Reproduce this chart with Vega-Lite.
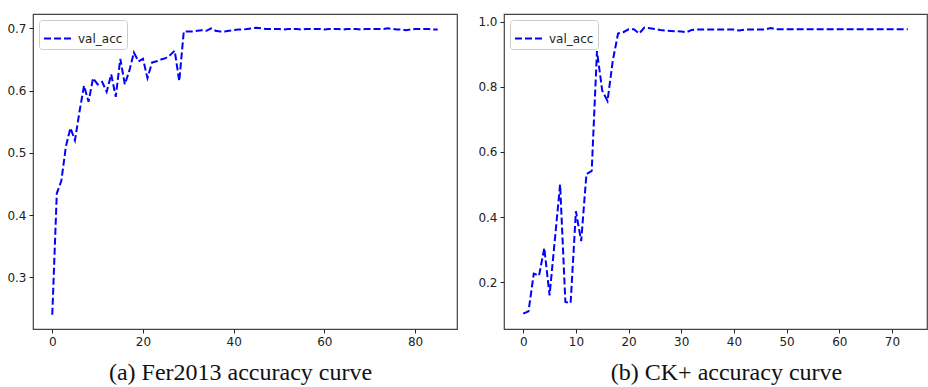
{
  "$schema": "https://vega.github.io/schema/vega-lite/v6.json",
  "padding": {"left": 6, "top": 13, "right": 0, "bottom": 0},
  "background": "white",
  "datasets": {
    "fer": [
      {"epoch": 0, "acc": 0.240, "series": "val_acc"},
      {"epoch": 1, "acc": 0.435, "series": "val_acc"},
      {"epoch": 2, "acc": 0.455, "series": "val_acc"},
      {"epoch": 3, "acc": 0.510, "series": "val_acc"},
      {"epoch": 4, "acc": 0.540, "series": "val_acc"},
      {"epoch": 5, "acc": 0.520, "series": "val_acc"},
      {"epoch": 6, "acc": 0.566, "series": "val_acc"},
      {"epoch": 7, "acc": 0.608, "series": "val_acc"},
      {"epoch": 8, "acc": 0.582, "series": "val_acc"},
      {"epoch": 9, "acc": 0.620, "series": "val_acc"},
      {"epoch": 10, "acc": 0.610, "series": "val_acc"},
      {"epoch": 11, "acc": 0.614, "series": "val_acc"},
      {"epoch": 12, "acc": 0.598, "series": "val_acc"},
      {"epoch": 13, "acc": 0.626, "series": "val_acc"},
      {"epoch": 14, "acc": 0.590, "series": "val_acc"},
      {"epoch": 15, "acc": 0.651, "series": "val_acc"},
      {"epoch": 16, "acc": 0.610, "series": "val_acc"},
      {"epoch": 17, "acc": 0.632, "series": "val_acc"},
      {"epoch": 18, "acc": 0.661, "series": "val_acc"},
      {"epoch": 19, "acc": 0.647, "series": "val_acc"},
      {"epoch": 20, "acc": 0.651, "series": "val_acc"},
      {"epoch": 21, "acc": 0.620, "series": "val_acc"},
      {"epoch": 22, "acc": 0.645, "series": "val_acc"},
      {"epoch": 23, "acc": 0.647, "series": "val_acc"},
      {"epoch": 24, "acc": 0.650, "series": "val_acc"},
      {"epoch": 25, "acc": 0.652, "series": "val_acc"},
      {"epoch": 26, "acc": 0.657, "series": "val_acc"},
      {"epoch": 27, "acc": 0.664, "series": "val_acc"},
      {"epoch": 28, "acc": 0.615, "series": "val_acc"},
      {"epoch": 29, "acc": 0.695, "series": "val_acc"},
      {"epoch": 30, "acc": 0.695, "series": "val_acc"},
      {"epoch": 31, "acc": 0.695, "series": "val_acc"},
      {"epoch": 32, "acc": 0.696, "series": "val_acc"},
      {"epoch": 33, "acc": 0.697, "series": "val_acc"},
      {"epoch": 34, "acc": 0.696, "series": "val_acc"},
      {"epoch": 35, "acc": 0.700, "series": "val_acc"},
      {"epoch": 36, "acc": 0.696, "series": "val_acc"},
      {"epoch": 37, "acc": 0.695, "series": "val_acc"},
      {"epoch": 38, "acc": 0.695, "series": "val_acc"},
      {"epoch": 39, "acc": 0.696, "series": "val_acc"},
      {"epoch": 40, "acc": 0.697, "series": "val_acc"},
      {"epoch": 41, "acc": 0.698, "series": "val_acc"},
      {"epoch": 42, "acc": 0.698, "series": "val_acc"},
      {"epoch": 43, "acc": 0.699, "series": "val_acc"},
      {"epoch": 44, "acc": 0.700, "series": "val_acc"},
      {"epoch": 45, "acc": 0.701, "series": "val_acc"},
      {"epoch": 46, "acc": 0.700, "series": "val_acc"},
      {"epoch": 47, "acc": 0.699, "series": "val_acc"},
      {"epoch": 48, "acc": 0.699, "series": "val_acc"},
      {"epoch": 49, "acc": 0.699, "series": "val_acc"},
      {"epoch": 50, "acc": 0.699, "series": "val_acc"},
      {"epoch": 51, "acc": 0.698, "series": "val_acc"},
      {"epoch": 52, "acc": 0.699, "series": "val_acc"},
      {"epoch": 53, "acc": 0.699, "series": "val_acc"},
      {"epoch": 54, "acc": 0.699, "series": "val_acc"},
      {"epoch": 55, "acc": 0.698, "series": "val_acc"},
      {"epoch": 56, "acc": 0.699, "series": "val_acc"},
      {"epoch": 57, "acc": 0.699, "series": "val_acc"},
      {"epoch": 58, "acc": 0.699, "series": "val_acc"},
      {"epoch": 59, "acc": 0.699, "series": "val_acc"},
      {"epoch": 60, "acc": 0.698, "series": "val_acc"},
      {"epoch": 61, "acc": 0.699, "series": "val_acc"},
      {"epoch": 62, "acc": 0.699, "series": "val_acc"},
      {"epoch": 63, "acc": 0.699, "series": "val_acc"},
      {"epoch": 64, "acc": 0.698, "series": "val_acc"},
      {"epoch": 65, "acc": 0.699, "series": "val_acc"},
      {"epoch": 66, "acc": 0.699, "series": "val_acc"},
      {"epoch": 67, "acc": 0.699, "series": "val_acc"},
      {"epoch": 68, "acc": 0.698, "series": "val_acc"},
      {"epoch": 69, "acc": 0.699, "series": "val_acc"},
      {"epoch": 70, "acc": 0.699, "series": "val_acc"},
      {"epoch": 71, "acc": 0.699, "series": "val_acc"},
      {"epoch": 72, "acc": 0.699, "series": "val_acc"},
      {"epoch": 73, "acc": 0.699, "series": "val_acc"},
      {"epoch": 74, "acc": 0.700, "series": "val_acc"},
      {"epoch": 75, "acc": 0.699, "series": "val_acc"},
      {"epoch": 76, "acc": 0.698, "series": "val_acc"},
      {"epoch": 77, "acc": 0.698, "series": "val_acc"},
      {"epoch": 78, "acc": 0.697, "series": "val_acc"},
      {"epoch": 79, "acc": 0.698, "series": "val_acc"},
      {"epoch": 80, "acc": 0.699, "series": "val_acc"},
      {"epoch": 81, "acc": 0.699, "series": "val_acc"},
      {"epoch": 82, "acc": 0.699, "series": "val_acc"},
      {"epoch": 83, "acc": 0.699, "series": "val_acc"},
      {"epoch": 84, "acc": 0.698, "series": "val_acc"},
      {"epoch": 85, "acc": 0.698, "series": "val_acc"}
    ],
    "ck": [
      {"epoch": 0, "acc": 0.103, "series": "val_acc"},
      {"epoch": 1, "acc": 0.110, "series": "val_acc"},
      {"epoch": 2, "acc": 0.226, "series": "val_acc"},
      {"epoch": 3, "acc": 0.220, "series": "val_acc"},
      {"epoch": 4, "acc": 0.305, "series": "val_acc"},
      {"epoch": 5, "acc": 0.159, "series": "val_acc"},
      {"epoch": 6, "acc": 0.330, "series": "val_acc"},
      {"epoch": 7, "acc": 0.500, "series": "val_acc"},
      {"epoch": 8, "acc": 0.139, "series": "val_acc"},
      {"epoch": 9, "acc": 0.136, "series": "val_acc"},
      {"epoch": 10, "acc": 0.418, "series": "val_acc"},
      {"epoch": 11, "acc": 0.326, "series": "val_acc"},
      {"epoch": 12, "acc": 0.532, "series": "val_acc"},
      {"epoch": 13, "acc": 0.542, "series": "val_acc"},
      {"epoch": 14, "acc": 0.910, "series": "val_acc"},
      {"epoch": 15, "acc": 0.788, "series": "val_acc"},
      {"epoch": 16, "acc": 0.757, "series": "val_acc"},
      {"epoch": 17, "acc": 0.880, "series": "val_acc"},
      {"epoch": 18, "acc": 0.964, "series": "val_acc"},
      {"epoch": 19, "acc": 0.968, "series": "val_acc"},
      {"epoch": 20, "acc": 0.977, "series": "val_acc"},
      {"epoch": 21, "acc": 0.977, "series": "val_acc"},
      {"epoch": 22, "acc": 0.964, "series": "val_acc"},
      {"epoch": 23, "acc": 0.982, "series": "val_acc"},
      {"epoch": 24, "acc": 0.980, "series": "val_acc"},
      {"epoch": 25, "acc": 0.978, "series": "val_acc"},
      {"epoch": 26, "acc": 0.975, "series": "val_acc"},
      {"epoch": 27, "acc": 0.973, "series": "val_acc"},
      {"epoch": 28, "acc": 0.972, "series": "val_acc"},
      {"epoch": 29, "acc": 0.971, "series": "val_acc"},
      {"epoch": 30, "acc": 0.970, "series": "val_acc"},
      {"epoch": 31, "acc": 0.968, "series": "val_acc"},
      {"epoch": 32, "acc": 0.975, "series": "val_acc"},
      {"epoch": 33, "acc": 0.976, "series": "val_acc"},
      {"epoch": 34, "acc": 0.976, "series": "val_acc"},
      {"epoch": 35, "acc": 0.976, "series": "val_acc"},
      {"epoch": 36, "acc": 0.976, "series": "val_acc"},
      {"epoch": 37, "acc": 0.976, "series": "val_acc"},
      {"epoch": 38, "acc": 0.976, "series": "val_acc"},
      {"epoch": 39, "acc": 0.976, "series": "val_acc"},
      {"epoch": 40, "acc": 0.976, "series": "val_acc"},
      {"epoch": 41, "acc": 0.973, "series": "val_acc"},
      {"epoch": 42, "acc": 0.976, "series": "val_acc"},
      {"epoch": 43, "acc": 0.976, "series": "val_acc"},
      {"epoch": 44, "acc": 0.976, "series": "val_acc"},
      {"epoch": 45, "acc": 0.976, "series": "val_acc"},
      {"epoch": 46, "acc": 0.977, "series": "val_acc"},
      {"epoch": 47, "acc": 0.981, "series": "val_acc"},
      {"epoch": 48, "acc": 0.977, "series": "val_acc"},
      {"epoch": 49, "acc": 0.977, "series": "val_acc"},
      {"epoch": 50, "acc": 0.977, "series": "val_acc"},
      {"epoch": 51, "acc": 0.977, "series": "val_acc"},
      {"epoch": 52, "acc": 0.977, "series": "val_acc"},
      {"epoch": 53, "acc": 0.977, "series": "val_acc"},
      {"epoch": 54, "acc": 0.977, "series": "val_acc"},
      {"epoch": 55, "acc": 0.977, "series": "val_acc"},
      {"epoch": 56, "acc": 0.977, "series": "val_acc"},
      {"epoch": 57, "acc": 0.977, "series": "val_acc"},
      {"epoch": 58, "acc": 0.977, "series": "val_acc"},
      {"epoch": 59, "acc": 0.977, "series": "val_acc"},
      {"epoch": 60, "acc": 0.977, "series": "val_acc"},
      {"epoch": 61, "acc": 0.977, "series": "val_acc"},
      {"epoch": 62, "acc": 0.977, "series": "val_acc"},
      {"epoch": 63, "acc": 0.977, "series": "val_acc"},
      {"epoch": 64, "acc": 0.977, "series": "val_acc"},
      {"epoch": 65, "acc": 0.977, "series": "val_acc"},
      {"epoch": 66, "acc": 0.977, "series": "val_acc"},
      {"epoch": 67, "acc": 0.977, "series": "val_acc"},
      {"epoch": 68, "acc": 0.977, "series": "val_acc"},
      {"epoch": 69, "acc": 0.977, "series": "val_acc"},
      {"epoch": 70, "acc": 0.977, "series": "val_acc"},
      {"epoch": 71, "acc": 0.977, "series": "val_acc"},
      {"epoch": 72, "acc": 0.977, "series": "val_acc"},
      {"epoch": 73, "acc": 0.977, "series": "val_acc"}
    ]
  },
  "hconcat": [
    {
      "width": 424,
      "height": 315,
      "data": {"name": "fer"},
      "mark": {"type": "line", "strokeDash": [7, 3], "strokeWidth": 2, "clip": true},
      "encoding": {
        "x": {"field": "epoch", "type": "quantitative",
              "scale": {"domain": [-4.25, 89.25], "nice": false, "zero": false},
              "axis": {"values": [0, 20, 40, 60, 80], "title": "(a) Fer2013 accuracy curve", "titleX": 207}},
        "y": {"field": "acc", "type": "quantitative",
              "scale": {"domain": [0.217, 0.723], "nice": false, "zero": false},
              "axis": {"values": [0.3, 0.4, 0.5, 0.6, 0.7], "format": ".1f", "title": null, "minExtent": 26, "maxExtent": 26}},
        "color": {"field": "series", "type": "nominal", "scale": {"range": ["#0000ff"]}, "legend": {"title": null}}
      }
    },
    {
      "width": 423,
      "height": 315,
      "data": {"name": "ck"},
      "mark": {"type": "line", "strokeDash": [7, 3], "strokeWidth": 2, "clip": true},
      "encoding": {
        "x": {"field": "epoch", "type": "quantitative",
              "scale": {"domain": [-3.65, 76.65], "nice": false, "zero": false},
              "axis": {"values": [0, 10, 20, 30, 40, 50, 60, 70], "title": "(b) CK+ accuracy curve", "titleX": 222}},
        "y": {"field": "acc", "type": "quantitative",
              "scale": {"domain": [0.056, 1.024], "nice": false, "zero": false},
              "axis": {"values": [0.2, 0.4, 0.6, 0.8, 1.0], "format": ".1f", "title": null, "minExtent": 26, "maxExtent": 26}},
        "color": {"field": "series", "type": "nominal", "scale": {"range": ["#0000ff"]}, "legend": {"title": null}}
      }
    }
  ],
  "spacing": 47,
  "bounds": "flush",
  "resolve": {"scale": {"color": "independent", "x": "independent", "y": "independent"}, "legend": {"color": "independent"}},
  "config": {
    "view": {"stroke": "#444444", "strokeWidth": 1.2},
    "axis": {
      "domain": false, "grid": false,
      "tickColor": "#222222", "tickSize": 4, "tickWidth": 1,
      "labelColor": "#222222", "labelFont": "DejaVu Sans", "labelFontSize": 12,
      "labelPadding": 3, "labelFlush": false, "labelOverlap": false,
      "titleFont": "Liberation Serif", "titleFontSize": 24, "titleFontWeight": "normal",
      "titleColor": "#111111", "titlePadding": 13, "titleAlign": "center"
    },
    "legend": {
      "orient": "top-left", "offset": 6,
      "symbolType": "stroke", "symbolSize": 729, "symbolStrokeWidth": 2, "symbolDash": [7, 3],
      "labelFont": "DejaVu Sans", "labelFontSize": 12, "labelColor": "#222222", "labelOffset": 6,
      "padding": 4, "strokeColor": "#cccccc", "cornerRadius": 3, "fillColor": "white"
    }
  }
}
